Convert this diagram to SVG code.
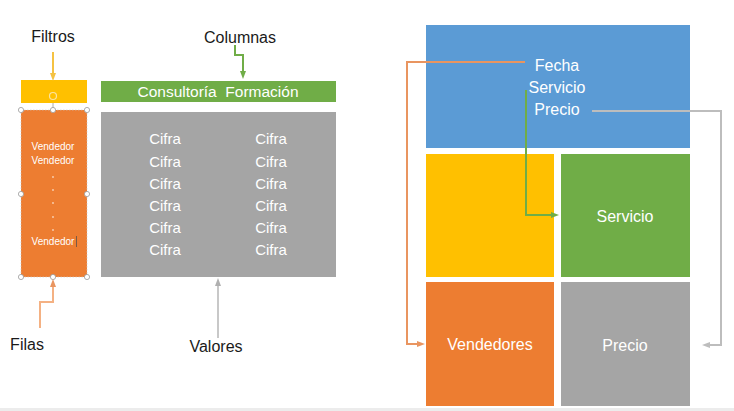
<svg xmlns="http://www.w3.org/2000/svg" width="734" height="411" viewBox="0 0 734 411">
<defs>
<style>
text{font-family:"Liberation Sans","Open Sans",sans-serif}
.lbl{font-size:16px;fill:#1a1a1a;text-anchor:middle}
.w{fill:#fff;text-anchor:middle}
.h{fill:#fff;stroke:#9a9a9a;stroke-width:0.8}
.c{fill:none;stroke-width:2}
</style>
<marker id="aY" markerWidth="8" markerHeight="8" refX="4" refY="4" orient="auto" markerUnits="userSpaceOnUse"><path d="M0,1 L8,4 L0,7 z" fill="#F5C242"/></marker>
<marker id="aG" markerWidth="8" markerHeight="8" refX="4" refY="4" orient="auto" markerUnits="userSpaceOnUse"><path d="M0,1 L8,4 L0,7 z" fill="#70AD47"/></marker>
<marker id="aO" markerWidth="8" markerHeight="8" refX="4" refY="4" orient="auto" markerUnits="userSpaceOnUse"><path d="M0,1 L8,4 L0,7 z" fill="#E99560"/></marker>
<marker id="aS" markerWidth="8" markerHeight="8" refX="4" refY="4" orient="auto" markerUnits="userSpaceOnUse"><path d="M0,1 L8,4 L0,7 z" fill="#BDBDBD"/></marker>
<marker id="aL" markerWidth="8" markerHeight="8" refX="4" refY="4" orient="auto" markerUnits="userSpaceOnUse"><path d="M0,1 L8,4 L0,7 z" fill="#B0B0B0"/></marker>
</defs>
<rect width="734" height="411" fill="#fff"/>
<rect x="0" y="408" width="734" height="3" fill="#ECECEC"/>

<g id="filtros">
<text class="lbl" x="53" y="42">Filtros</text>
<rect x="21" y="80" width="66" height="23" fill="#FFC000"/>
<circle cx="53" cy="96" r="3.5" fill="none" stroke="#FBE3A0" stroke-width="1.2"/>
</g>
<g id="filas-box">
<rect x="21" y="110" width="66" height="167" fill="#ED7D31" stroke="#C9C9C9" stroke-width="0.6" stroke-dasharray="1.5 1.5"/>
<line x1="53" y1="103" x2="53" y2="110" stroke="#9a9a9a" stroke-width="0.8"/>
<text class="w" x="53" y="150" font-size="10">Vendedor</text>
<text class="w" x="53" y="164" font-size="10">Vendedor</text>
<g fill="#F8D2B6"><circle cx="53" cy="177" r="0.9"/><circle cx="53" cy="190" r="0.9"/><circle cx="53" cy="203" r="0.9"/><circle cx="53" cy="217" r="0.9"/><circle cx="53" cy="230" r="0.9"/></g>
<text class="w" x="53" y="245" font-size="10">Vendedor</text>
<line x1="76.5" y1="236" x2="76.5" y2="247" stroke="#7a5a45" stroke-width="1"/>
<circle class="h" cx="21" cy="110" r="2.6"/><circle class="h" cx="53" cy="110" r="2.6"/><circle class="h" cx="87" cy="110" r="2.6"/>
<circle class="h" cx="21" cy="194" r="2.6"/><circle class="h" cx="87" cy="194" r="2.6"/>
<circle class="h" cx="21" cy="277" r="2.6"/><circle class="h" cx="53" cy="277" r="2.6"/><circle class="h" cx="87" cy="277" r="2.6"/>
</g>
<g id="filas-label"><text class="lbl" x="27" y="350">Filas</text></g>

<g id="columnas">
<text class="lbl" x="240" y="43">Columnas</text>
<rect x="101" y="81" width="235" height="21" fill="#70AD47"/>
<text class="w" x="218" y="97" font-size="15.5" xml:space="preserve">Consultoría  Formación</text>
</g>
<g id="valores-box">
<rect x="101" y="112" width="235" height="165" fill="#A5A5A5"/>
<g class="w" font-size="15">
<text x="165" y="144">Cifra</text><text x="271" y="144">Cifra</text>
<text x="165" y="167">Cifra</text><text x="271" y="167">Cifra</text>
<text x="165" y="189">Cifra</text><text x="271" y="189">Cifra</text>
<text x="165" y="211">Cifra</text><text x="271" y="211">Cifra</text>
<text x="165" y="233">Cifra</text><text x="271" y="233">Cifra</text>
<text x="165" y="255">Cifra</text><text x="271" y="255">Cifra</text>
</g>
</g>
<g id="valores-label"><text class="lbl" x="216" y="352">Valores</text></g>

<g id="datos">
<rect x="426" y="25" width="264" height="123" fill="#5B9BD5"/>
<text class="w" x="557" y="71" font-size="16">Fecha</text>
<text class="w" x="557" y="93" font-size="16">Servicio</text>
<text class="w" x="557" y="115" font-size="16">Precio</text>
</g>
<g id="filtro-area"><rect x="426" y="154" width="128" height="123" fill="#FFC000"/></g>
<g id="servicio"><rect x="561" y="154" width="129" height="123" fill="#70AD47"/><text class="w" x="625" y="222" font-size="16">Servicio</text></g>
<g id="vendedores"><rect x="426" y="282" width="128" height="124" fill="#ED7D31"/><text class="w" x="490" y="350" font-size="16">Vendedores</text></g>
<g id="precio"><rect x="561" y="282" width="129" height="124" fill="#A5A5A5"/><text class="w" x="625" y="351" font-size="16">Precio</text></g>

<g id="connectors">
<path class="c" d="M53,52 V77" stroke="#F5C242" stroke-width="1.2" marker-end="url(#aY)"/>
<path class="c" d="M235,45 V55 H243 V75" stroke="#70AD47" stroke-width="1" marker-end="url(#aG)"/>
<path class="c" d="M40,328 V302 H53 V283" stroke="#F4B183" stroke-width="1.2" marker-end="url(#aO)"/>
<path class="c" d="M218,338 V282" stroke="#C8C8C8" stroke-width="1.5" marker-end="url(#aL)"/>
<path class="c" d="M525,62 H407 V344 H421" stroke="#E99560" marker-end="url(#aO)"/>
<path class="c" d="M526,90 V215 H555" stroke="#70AD47" marker-end="url(#aG)"/>
<path class="c" d="M592,111 H721 V345 H706" stroke="#BDBDBD" marker-end="url(#aS)"/>
</g>
</svg>
